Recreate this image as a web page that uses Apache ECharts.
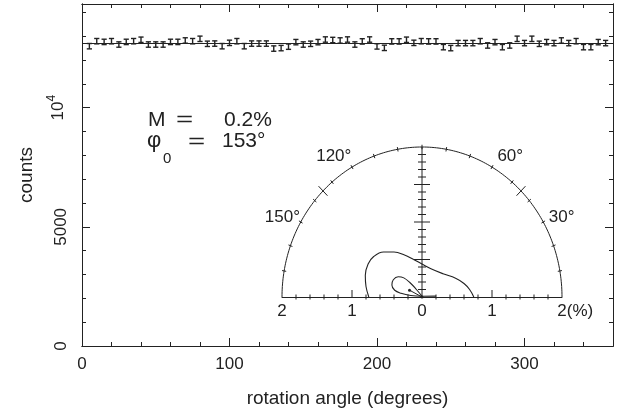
<!DOCTYPE html>
<html><head><meta charset="utf-8">
<script src="https://cdn.jsdelivr.net/npm/echarts@6/dist/echarts.min.js"></script>
<style>html,body{margin:0;padding:0;background:#fff}#c{width:619px;height:414px}</style>
</head><body><div id="c"></div>
<script>
// ---- main plot data ----
const rotationAngle = [5,10,15,20,25,30,35,40,45,50,55,60,65,70,75,80,85,90,95,100,
  105,110,115,120,125,130,135,140,145,150,155,160,165,170,175,180,185,190,195,200,
  205,210,215,220,225,230,235,240,245,250,255,260,265,270,275,280,285,290,295,300,
  305,310,315,320,325,330,335,340,345,350,355];
const counts = [12580,12790,12760,12790,12650,12760,12790,12850,12650,12650,
  12650,12760,12760,12820,12790,12890,12680,12690,12580,12720,
  12790,12580,12690,12690,12690,12480,12500,12560,12750,12650,
  12680,12750,12860,12840,12820,12860,12650,12780,12860,12570,
  12510,12780,12780,12850,12720,12790,12780,12780,12540,12500,
  12710,12710,12710,12790,12610,12750,12540,12610,12890,12710,
  12890,12680,12750,12710,12820,12710,12790,12540,12540,12750,
  12710];
const countError = 113;
const fitLevel = 12715;
const xTickLabels = [0, 100, 200, 300];
const yTickLabels = {0: '0', 5000: '5000', 10000: '10{s|4}'};

// ---- inset (polar) data ----
const outerContour = [[-0.76,0],[-0.8,0.14],[-0.81,0.29],[-0.77,0.44],[-0.69,0.54],[-0.55,0.6],
  [-0.4,0.6],[-0.25,0.56],[-0.12,0.5],[0,0.44],[0.12,0.38],[0.3,0.31],[0.48,0.25],[0.6,0.18],[0.68,0.1],[0.74,0]];
const innerContour = [[0,0.01],[-0.08,0.1],[-0.17,0.19],[-0.26,0.255],[-0.34,0.27],[-0.41,0.23],
  [-0.43,0.16],[-0.39,0.09],[-0.3,0.05],[-0.16,0.02],[0,0.01],[0.2,0.012]];
const fitM = 0.2;        // %
const fitPhi0 = 153;     // degrees
const insetRadius = 2;   // %
const angleLabels = [30, 60, 120, 150];
const insetTickLabels = {'-2':'2','-1':'1','0':'0','1':'1','2':'{h|(%)}2(%)'};

const FONT = 'Liberation Sans';
const INK = '#222';
const rad = d => d * Math.PI / 180;

const chart = echarts.init(document.getElementById('c'), null, {renderer: 'canvas'});

function mainX(pos, interval, len, labels) {
  return {type:'value', gridIndex:0, position:pos, min:0, max:360, interval:interval,
    axisLine:{show:true, onZero:false, lineStyle:{color:INK, width:1}},
    axisTick:{show:true, inside:true, length:len, lineStyle:{color:INK}},
    splitLine:{show:false},
    axisLabel: labels ? {show:true, margin:10, color:INK, fontFamily:FONT, fontSize:17,
      formatter: v => xTickLabels.indexOf(v) >= 0 ? String(v) : ''} : {show:false}};
}
function mainY(pos, interval, len, labels) {
  return {type:'value', gridIndex:0, position:pos, min:0, max:14350, interval:interval,
    axisLine:{show:true, onZero:false, lineStyle:{color:INK, width:1}},
    axisTick:{show:true, inside:true, length:len, lineStyle:{color:INK}},
    splitLine:{show:false},
    axisLabel: labels ? {show:true, rotate:90, margin:12, color:INK, fontFamily:FONT, fontSize:17,
      showMaxLabel:false,
      formatter: v => yTickLabels[v] !== undefined ? yTickLabels[v] : '',
      rich:{s:{fontSize:12, fontFamily:FONT, color:INK, verticalAlign:'top', lineHeight:24}}} : {show:false}};
}

function renderErr(params, api) {
  const x = api.value(0), lo = api.value(1), hi = api.value(2);
  const a = api.coord([x, lo]), b = api.coord([x, hi]);
  const hw = 2.6, st = {stroke: INK, lineWidth: 1.4};
  return {type:'group', children:[
    {type:'line', shape:{x1:a[0], y1:a[1], x2:b[0], y2:b[1]}, style:st},
    {type:'line', shape:{x1:a[0]-hw, y1:a[1], x2:a[0]+hw, y2:a[1]}, style:st},
    {type:'line', shape:{x1:b[0]-hw, y1:b[1], x2:b[0]+hw, y2:b[1]}, style:st}
  ]};
}

function renderInsetFrame(params, api) {
  const R = insetRadius, ch = [], st = {stroke: INK, lineWidth: 1, fill: null};
  const arc = [];
  for (let a = 0; a <= 180; a += 1) arc.push(api.coord([R*Math.cos(rad(a)), R*Math.sin(rad(a))]));
  ch.push({type:'polyline', shape:{points:arc}, style:st});
  for (let a = 10; a <= 170; a += 5) {
    const big = (a === 45 || a === 135);
    if (!big && a % 10 !== 0) continue;
    const d = big ? 0.09 : 0.03, t = rad(a);
    const p = api.coord([(R-d)*Math.cos(t), (R-d)*Math.sin(t)]);
    const q = api.coord([(R+d)*Math.cos(t), (R+d)*Math.sin(t)]);
    ch.push({type:'line', shape:{x1:p[0], y1:p[1], x2:q[0], y2:q[1]}, style:st});
  }
  const o = api.coord([0,0]), top = api.coord([0,R]);
  ch.push({type:'line', shape:{x1:o[0], y1:o[1], x2:top[0], y2:top[1]}, style:st});
  for (let i = 1; i < 20; i++) {
    const p = api.coord([0, i/10]);
    const w = (i % 5 === 0) ? 8 : 4;
    ch.push({type:'line', shape:{x1:p[0]-w, y1:p[1], x2:p[0]+w, y2:p[1]}, style:st});
  }
  for (let i = -9; i <= 9; i++) {
    if (i === 0) continue;
    const p = api.coord([i/5, 0]);
    if (Math.abs(i) === 5) ch.push({type:'line', shape:{x1:p[0], y1:p[1], x2:p[0], y2:p[1]-7}, style:st});
    else ch.push({type:'line', shape:{x1:p[0], y1:p[1]-2.5, x2:p[0], y2:p[1]+2.5}, style:st});
  }
  return {type:'group', children:ch};
}

const fitPoint = [fitM*Math.cos(rad(fitPhi0)), fitM*Math.sin(rad(fitPhi0))];
const labelR = 2.26;
const angleLabelData = angleLabels.map(a => {
  const shift = a < 90 ? -0.065 * a : 0.065 * (180 - a);
  const t = rad(a + shift);
  return {value:[labelR*Math.cos(t), labelR*Math.sin(t)], name: a + '°'};
});

const txt = (s, x, y, size, extra) => Object.assign({type:'text', x:x, y:y, silent:true,
  style:{text:s, fill:INK, fontFamily:FONT, fontSize:size, verticalAlign:'middle', textAlign:'left'}}, extra || {});

chart.setOption({
  animation:false,
  backgroundColor:'#fff',
  grid:[
    {left:82, right:6, top:4, bottom:68},
    {left:282, top:147, width:280, height:150}
  ],
  xAxis:[
    Object.assign(mainX('bottom', 100, 8, true), {name:'rotation angle (degrees)', nameLocation:'middle', nameGap:43,
      nameTextStyle:{color:INK, fontFamily:FONT, fontSize:19}}),
    mainX('bottom', 20, 4, false),
    mainX('top', 100, 8, false),
    mainX('top', 20, 4, false),
    {type:'value', gridIndex:1, position:'bottom', min:-2, max:2, interval:1,
      axisLine:{show:true, onZero:false, lineStyle:{color:INK, width:1}},
      axisTick:{show:false}, splitLine:{show:false},
      axisLabel:{show:true, margin:6, color:INK, fontFamily:FONT, fontSize:17,
        formatter: v => insetTickLabels[String(v)] || '',
        rich:{h:{color:'rgba(0,0,0,0)', fontFamily:FONT, fontSize:17}}}}
  ],
  yAxis:[
    Object.assign(mainY('left', 5000, 8, true), {name:'counts', nameLocation:'middle', nameGap:46,
      nameTextStyle:{color:INK, fontFamily:FONT, fontSize:19}}),
    mainY('left', 1000, 4, false),
    mainY('right', 5000, 8, false),
    mainY('right', 1000, 4, false),
    {type:'value', gridIndex:1, min:0, max:2, show:false}
  ],
  series:[
    {type:'custom', xAxisIndex:0, yAxisIndex:0, renderItem:renderErr, silent:true,
      data: rotationAngle.map((a,i) => [a, counts[i]-countError, counts[i]+countError]),
      markLine:{silent:true, symbol:'none', label:{show:false},
        lineStyle:{color:INK, width:1, type:'solid'}, data:[{yAxis:fitLevel}]}},
    {type:'custom', xAxisIndex:4, yAxisIndex:4, renderItem:renderInsetFrame, silent:true, clip:false, data:[[0,0]]},
    {type:'line', xAxisIndex:4, yAxisIndex:4, data:outerContour, smooth:0.4, showSymbol:false,
      lineStyle:{color:INK, width:1.1}, silent:true},
    {type:'line', xAxisIndex:4, yAxisIndex:4, data:innerContour, smooth:0.4, showSymbol:false,
      lineStyle:{color:INK, width:1.1}, silent:true},
    {type:'line', xAxisIndex:4, yAxisIndex:4, data:[[0,0], fitPoint], showSymbol:true, symbol:'circle', symbolSize:3,
      itemStyle:{color:INK}, lineStyle:{color:INK, width:1}, silent:true},
    {type:'scatter', xAxisIndex:4, yAxisIndex:4, data:angleLabelData, symbolSize:0, silent:true, clip:false,
      itemStyle:{opacity:1, color:INK},
      label:{show:true, position:'inside', formatter: p => p.name, color:INK, fontFamily:FONT, fontSize:17}}
  ],
  graphic:[
    txt('M', 148, 120, 21),
    txt('=', 176, 120, 21, {scaleX:1.4}),
    txt('0.2%', 224, 120, 21),
    txt('\u03C6', 147, 141, 22),
    txt('0', 163, 159, 15),
    txt('=', 188, 142, 21, {scaleX:1.4}),
    txt('153°', 222, 141, 21)
  ]
});
</script>
</body></html>
